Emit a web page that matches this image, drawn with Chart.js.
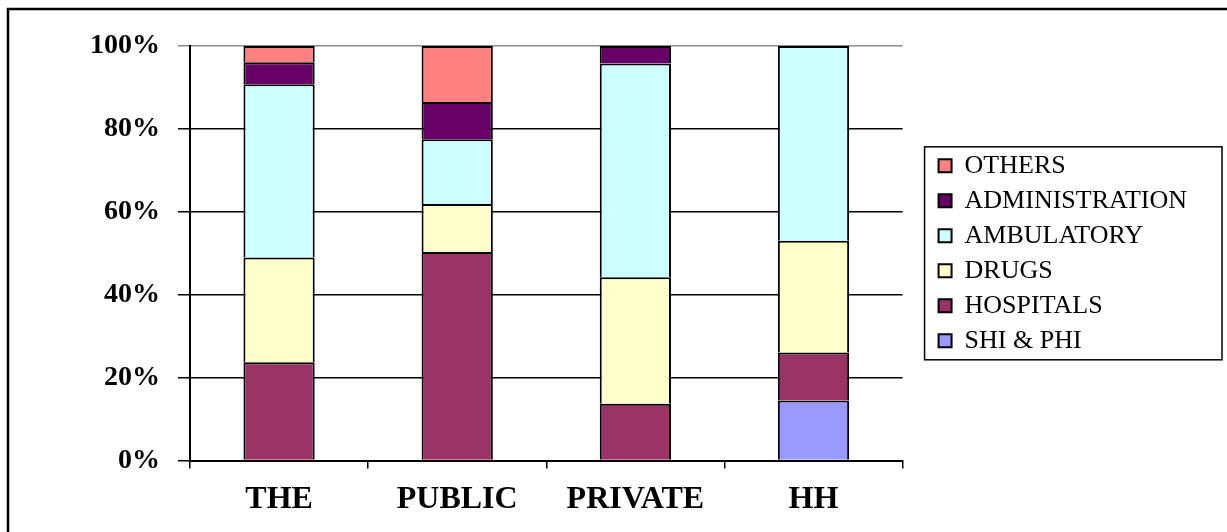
<!DOCTYPE html>
<html>
<head>
<meta charset="utf-8">
<script src="https://cdn.jsdelivr.net/npm/chart.js@4"></script>
<style>
  html, body { margin: 0; padding: 0; background: #fff; }
  #wrap { position: relative; width: 1227px; height: 532px; }
</style>
</head>
<body>
<div id="wrap"><canvas id="canvas"></canvas></div>
<script>
let categories = [ 'THE', 'PUBLIC', 'PRIVATE', 'HH' ];

// shares of spending, in percent, stacked bottom to top
let shiPhi         = [ 0,    0,    0,    14.5 ];
let hospitals      = [ 23.7, 50.3, 13.7, 11.6 ];
let drugs          = [ 25.3, 11.6, 30.5, 26.9 ];
let ambulatory     = [ 41.8, 15.6, 51.6, 47.0 ];
let administration = [ 5.3,  9.0,  4.2,  0    ];
let others         = [ 3.9,  13.5, 0,    0    ];

let yTicks = [ 0, 20, 40, 60, 80, 100 ];

const LEGEND_GAP = 27;

function series(label, values, colour) {
  return {
    label: label,
    data: values,
    backgroundColor: colour,
    borderColor: '#000',
    borderWidth: 2,
    categoryPercentage: 1.0,
    barPercentage: 0.4
  };
}

// keep some empty space between the plot and the legend
let legendGap = {
  id: 'legendGap',
  beforeLayout(chart) {
    let legend = chart.legend;
    if (legend && !legend._gapFit) {
      let fit = legend.fit;
      legend.fit = function() {
        fit.call(this);
        this.width += LEGEND_GAP;
      };
      legend._gapFit = true;
    }
  },
  afterLayout(chart) {
    chart.legend.left += LEGEND_GAP;
  }
};

// frame line on the top and left edge, plus a box round the legend
let frame = {
  id: 'frame',
  afterDraw(chart) {
    let ctx = chart.ctx;
    ctx.save();
    ctx.strokeStyle = '#000';
    ctx.lineWidth = 2.5;
    ctx.beginPath();
    ctx.moveTo(8, chart.height + 5);
    ctx.lineTo(8, 9);
    ctx.lineTo(chart.width + 5, 9);
    ctx.stroke();

    let boxes = chart.legend.legendHitBoxes;
    if (boxes && boxes.length) {
      let left = Math.min(...boxes.map(b => b.left));
      let top = Math.min(...boxes.map(b => b.top));
      let bottom = Math.max(...boxes.map(b => b.top + b.height));
      ctx.lineWidth = 1.5;
      ctx.strokeRect(left - 14, top - 6, 1222 - (left - 14), bottom - top + 12);
    }
    ctx.restore();
  }
};

let options = {
  type: 'bar',
  data: {
    labels: categories,
    datasets: [
      series('SHI & PHI',      shiPhi,         '#9999FF'),
      series('HOSPITALS',      hospitals,      '#993366'),
      series('DRUGS',          drugs,          '#FFFFCC'),
      series('AMBULATORY',     ambulatory,     '#CCFFFF'),
      series('ADMINISTRATION', administration, '#660066'),
      series('OTHERS',         others,         '#FF8080')
    ]
  },
  options: {
    responsive: true,
    maintainAspectRatio: false,
    animation: false,
    layout: {
      padding: { left: 72, top: 46, bottom: 1, right: 30 }
    },
    plugins: {
      title: { display: false },
      tooltip: { enabled: false },
      legend: {
        position: 'right',
        fullSize: false,
        reverse: true,
        labels: {
          color: '#000',
          font: { family: 'Liberation Serif', size: 26 },
          boxWidth: 13,
          boxHeight: 13,
          padding: 9
        }
      }
    },
    scales: {
      x: {
        stacked: true,
        grid: {
          offset: true,
          drawOnChartArea: false,
          color: '#000',
          lineWidth: 1.5,
          tickLength: 8
        },
        border: { color: '#000', width: 2 },
        ticks: {
          color: '#000',
          padding: 12,
          font: { family: 'Liberation Serif', size: 32, weight: 'bold' }
        }
      },
      y: {
        stacked: true,
        min: 0,
        max: 100,
        afterBuildTicks(axis) {
          axis.ticks = yTicks.map(v => ({ value: v }));
        },
        grid: {
          color: ctx => (ctx.tick && ctx.tick.value === 100) ? '#8a8a8a' : '#000',
          lineWidth: 1.5,
          tickLength: 12
        },
        border: { color: '#000', width: 2 },
        ticks: {
          color: '#000',
          padding: 18,
          font: { family: 'Liberation Serif', size: 28, weight: 'bold' },
          callback: v => v + '%'
        }
      }
    }
  },
  plugins: [ legendGap, frame ]
};

let chart = new Chart(document.getElementById('canvas'), options);
</script>
</body>
</html>
